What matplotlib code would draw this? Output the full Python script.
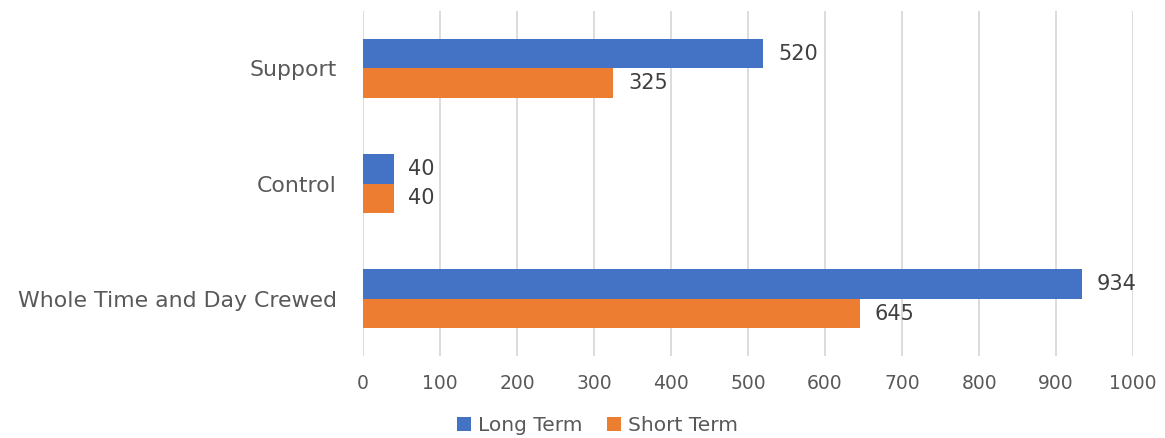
import matplotlib
matplotlib.use('Agg')
import matplotlib.pyplot as plt
import numpy as np

plt.rcParams['font.family'] = ['DejaVu Sans']

categories = ['Whole Time and Day Crewed', 'Control', 'Support']
long_term = [934, 40, 520]
short_term = [645, 40, 325]
series_names = ['Long Term', 'Short Term']
xticks = [0, 100, 200, 300, 400, 500, 600, 700, 800, 900, 1000]

blue = '#4472c4'
orange = '#ed7d31'
text_grey = '#595959'

fig = plt.figure(figsize=(11.65, 4.38), dpi=100)
ax = fig.add_axes([0.3116, 0.187, 0.661, 0.788])

y = np.arange(len(categories))
h = 0.26
b1 = ax.barh(y + h / 2, long_term, height=h, color=blue, label=series_names[0])
b2 = ax.barh(y - h / 2, short_term, height=h, color=orange, label=series_names[1])

for bars, vals in ((b1, long_term), (b2, short_term)):
    for bar, v in zip(bars, vals):
        ax.text(v + 19, bar.get_y() + bar.get_height() / 2, str(v),
                va='center', ha='left', fontsize=15, color='#404040')

ax.set_xlim(0, 1000)
ax.set_ylim(-0.5, 2.5)
ax.set_xticks(xticks)
ax.set_yticks(y)
ax.set_yticklabels(categories)
ax.tick_params(axis='x', length=0, pad=13, labelsize=13.5, labelcolor=text_grey)
ax.tick_params(axis='y', length=0, pad=19, labelsize=15.8, labelcolor=text_grey)
ax.grid(axis='x', color='#d9d9d9', linewidth=1.3)
ax.set_axisbelow(True)
for s in ax.spines.values():
    s.set_visible(False)

fig.legend(handles=[b1, b2], loc='center', bbox_to_anchor=(0.513, 0.029),
           ncol=2, frameon=False, fontsize=14.5, handlelength=0.7,
           handleheight=0.7, columnspacing=1.2, handletextpad=0.35,
           labelcolor=text_grey)

fig.savefig('out.png', dpi=100)
